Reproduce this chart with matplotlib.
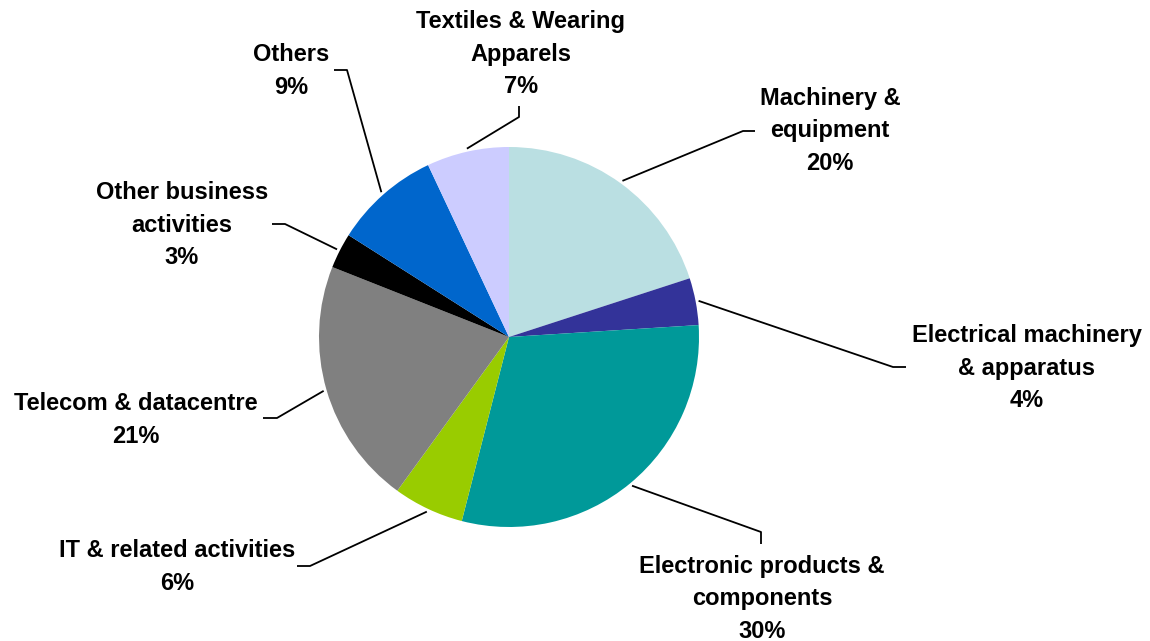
import numpy as np
import matplotlib.pyplot as plt

# shares by sector, clockwise from 12 o'clock
sectors = ['Machinery &\nequipment', 'Electrical machinery\n& apparatus',
           'Electronic products &\ncomponents', 'IT & related activities',
           'Telecom & datacentre', 'Other business\nactivities', 'Others',
           'Textiles & Wearing\nApparels']
shares = [20, 4, 30, 6, 21, 3, 9, 7]
colors = ['#BADFE2', '#333399', '#009999', '#99CC00',
          '#808080', '#000000', '#0066CC', '#CCCCFF']

W, H = 1150, 641
# layout in pixel space (y measured from top): label centre, leader elbow, leader end
label_xy = [(830, 131), (1027, 368), (762, 599), (177, 567),
            (136, 420), (182, 225), (291, 71), (521, 54)]
elbow_xy = [(743, 131), (893, 367), (761, 532), (310, 566),
            (277, 418), (285, 224), (347, 70), (519, 117)]
end_xy = [(755, 131), (906, 367), (761, 544), (297, 566),
          (263, 418), (272, 224), (334, 70), (519, 106)]

cx, cy, R = 509, H - 337, 190

fig = plt.figure(figsize=(W / 100, H / 100), dpi=100)
ax = fig.add_axes([0, 0, 1, 1])

wedges, _ = ax.pie(shares, colors=colors, startangle=90, counterclock=False,
                   center=(cx, cy), radius=R, wedgeprops=dict(linewidth=0))

ax.set_xlim(0, W)
ax.set_ylim(0, H)
ax.set_aspect('equal')
ax.axis('off')

for w, lab, v, lxy, exy, nxy in zip(wedges, sectors, shares, label_xy, elbow_xy, end_xy):
    mid = np.deg2rad((w.theta1 + w.theta2) / 2)
    sx = cx + (R + 3) * np.cos(mid)
    sy = cy + (R + 3) * np.sin(mid)
    ax.plot([sx, exy[0], nxy[0]], [sy, H - exy[1], H - nxy[1]],
            color='black', lw=1.3, solid_capstyle='butt')
    ax.text(lxy[0], H - lxy[1], '%s\n%d%%' % (lab, v), ha='center', va='center',
            multialignment='center', fontsize=17, fontweight='bold',
            family='Liberation Sans', linespacing=1.52)

fig.savefig('out.png', dpi=100)
